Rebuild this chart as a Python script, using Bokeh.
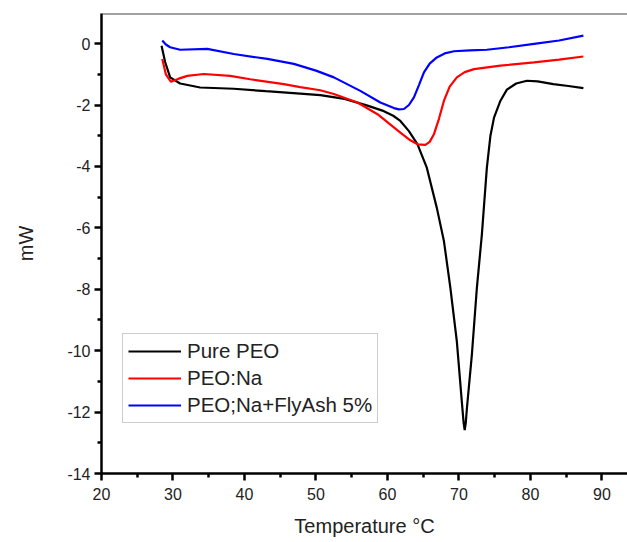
from bokeh.plotting import figure
from bokeh.models import Range1d, Span, Legend, LegendItem, FixedTicker, PrintfTickFormatter
from bokeh.embed import file_html
from bokeh.resources import INLINE

# Pure PEO
t_pure = [28.4, 28.9, 29.6, 31.0, 33.8, 38.5, 43.0, 47.8, 50.6, 54.0, 57.2, 59.5, 60.8, 61.8, 63.0,
          64.2, 65.5, 66.9, 67.9, 68.8, 69.7, 70.4, 70.65, 70.8, 70.95, 71.1, 71.8, 72.5, 73.2, 73.9,
          74.4, 74.9, 75.8, 76.7, 78.0, 79.5, 81.0, 83.2, 85.3, 87.4]
v_pure = [-0.07, -0.6, -1.1, -1.3, -1.43, -1.47, -1.55, -1.63, -1.68, -1.8, -2.02, -2.2, -2.35, -2.52, -2.85,
          -3.28, -4.04, -5.35, -6.44, -7.96, -9.7, -11.67, -12.35, -12.59, -12.35, -11.9, -10.14, -7.96, -6.22, -4.04,
          -3.0, -2.41, -1.86, -1.5, -1.3, -1.21, -1.23, -1.32, -1.38, -1.45]

# PEO:Na
t_na = [28.5, 29.0, 29.7, 30.7, 32.0, 34.3, 38.0, 40.8, 45.5, 47.8, 50.6, 52.5, 55.8, 58.6, 61.8,
        63.2, 64.2, 65.3, 65.9, 66.5, 67.2, 67.9, 68.7, 69.7, 70.8, 72.1, 75.8, 80.5, 84.0, 87.4]
v_na = [-0.5, -1.0, -1.24, -1.15, -1.05, -0.99, -1.05, -1.16, -1.32, -1.42, -1.52, -1.64, -1.92, -2.3, -2.9,
        -3.15, -3.28, -3.3, -3.2, -2.95, -2.45, -1.86, -1.4, -1.1, -0.93, -0.83, -0.72, -0.61, -0.52, -0.42]

# PEO;Na+FlyAsh 5%
t_fa = [28.5, 29.0, 29.6, 31.0, 34.8, 38.5, 43.2, 46.9, 50.0, 52.5, 56.2, 59.0, 60.9, 61.6, 62.3,
        63.0, 63.7, 64.4, 65.1, 65.9, 66.9, 68.0, 69.3, 71.5, 73.9, 77.0, 80.5, 84.0, 87.4]
v_fa = [0.1, -0.03, -0.12, -0.2, -0.17, -0.34, -0.5, -0.66, -0.88, -1.1, -1.54, -1.92, -2.1, -2.14, -2.13,
        -2.0, -1.75, -1.35, -0.94, -0.65, -0.45, -0.32, -0.25, -0.22, -0.2, -0.12, -0.01, 0.1, 0.26]

series_names = ["Pure PEO", "PEO:Na", "PEO;Na+FlyAsh 5%"]
series_colors = ["black", "#ff0000", "#0000ff"]

FONT = "Liberation Sans"

p = figure(width=627, height=542, output_backend="svg", toolbar_location=None,
           x_range=Range1d(20, 93.57), y_range=Range1d(-14, 0.98),
           min_border_left=101, min_border_top=13, min_border_bottom=69, min_border_right=0)
p.outline_line_color = None
p.grid.visible = False
p.background_fill_color = "white"

renderers = []
for t, v, c in zip([t_pure, t_na, t_fa], [v_pure, v_na, v_fa], series_colors):
    r = p.line(t, v, line_color=c, line_width=2.2)
    renderers.append(r)

top = Span(location=0.98, dimension="width", line_color="#444444", line_width=2)
p.add_layout(top)

p.xaxis.ticker = FixedTicker(ticks=[20, 30, 40, 50, 60, 70, 80, 90],
                             minor_ticks=[25, 35, 45, 55, 65, 75, 85, 95])
p.yaxis.ticker = FixedTicker(ticks=[0, -2, -4, -6, -8, -10, -12, -14],
                             minor_ticks=[-1, -3, -5, -7, -9, -11, -13])
p.xaxis.formatter = PrintfTickFormatter(format="%d")
p.yaxis.formatter = PrintfTickFormatter(format="%d")
for ax in (p.xaxis, p.yaxis):
    ax.axis_line_width = 2.5
    ax.axis_line_color = "black"
    ax.major_tick_line_width = 2.5
    ax.minor_tick_line_width = 2.5
    ax.major_tick_out = 7
    ax.major_tick_in = 0
    ax.minor_tick_out = 4
    ax.minor_tick_in = 0
    ax.major_label_text_font = FONT
    ax.major_label_text_font_size = "16px"
    ax.major_label_text_color = "#222222"
    ax.axis_label_text_font = FONT
    ax.axis_label_text_font_size = "20px"
    ax.axis_label_text_font_style = "normal"
    ax.axis_label_text_color = "#222222"

p.xaxis.axis_label = "Temperature °C"
p.yaxis.axis_label = "mW"
p.xaxis.major_label_standoff = 7
p.yaxis.major_label_standoff = 4
p.xaxis.axis_label_standoff = 12
p.yaxis.axis_label_standoff = 27

legend = Legend(items=[LegendItem(label=n, renderers=[r]) for n, r in zip(series_names, renderers)],
                location=(21, 50))
legend.label_text_font = FONT
legend.label_text_font_size = "20.5px"
legend.label_text_color = "#222222"
legend.border_line_color = "#999999"
legend.border_line_width = 1
legend.glyph_width = 53
legend.glyph_height = 20
legend.label_height = 20
legend.spacing = 3
legend.padding = 5
legend.margin = 0
legend.label_standoff = 6
legend.background_fill_alpha = 1
p.add_layout(legend, "center")

open("out.html", "w").write(file_html(p, INLINE))
